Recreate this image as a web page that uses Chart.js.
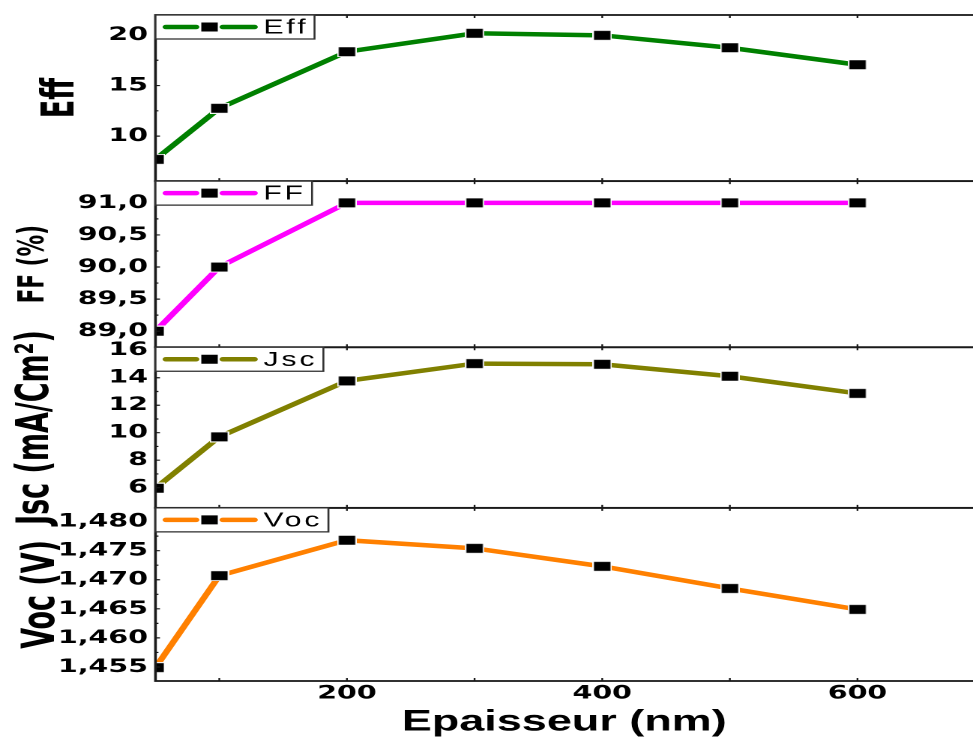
<!DOCTYPE html>
<html>
<head>
<meta charset="utf-8">
<script src="https://cdn.jsdelivr.net/npm/chart.js@4.4.1/dist/chart.umd.min.js"></script>
<style>
  html, body { margin: 0; padding: 0; background: #fff; overflow: hidden; }
</style>
</head>
<body>
<canvas id="chart" width="649" height="738" style="width:973px;height:738px;display:block"></canvas>
<script>
// thickness (nm) on x, four stacked panels
const thickness = [50, 100, 200, 300, 400, 500, 600];
const eff = [7.7, 12.75, 18.35, 20.17, 19.97, 18.74, 17.06];
const ff = [89.0, 90.0, 91.0, 91.0, 91.0, 91.0, 91.0];
const jsc = [5.96, 9.70, 13.77, 15.03, 14.98, 14.11, 12.86];
const voc = [1.4549, 1.4707, 1.4768, 1.4754, 1.4723, 1.4685, 1.4649];

const xTicks = [200, 400, 600];
const xMinorTicks = [100, 200, 300, 400, 500, 600];
const effTicks = [10, 15, 20];
const ffTicks = [89.0, 89.5, 90.0, 90.5, 91.0];
const jscTicks = [6, 8, 10, 12, 14, 16];
const vocTicks = [1.455, 1.460, 1.465, 1.470, 1.475, 1.480];

const labels = ['Eff', 'FF', 'Jsc', 'Voc'];
const titles = ['Eff', 'FF (%)', 'Jsc (mA/Cm²)', 'Voc (V)'];
const colors = ['#008000', '#ff00ff', '#808000', '#ff8000'];

// canvas is drawn 649 wide and stretched to 973 by css (reference is stretched too)
const LEFT = 103.7;
const narrow = '"Liberation Sans Narrow", "DejaVu Sans Condensed", "Liberation Sans", sans-serif';
const tickFont = { family: 'DejaVu Sans', size: 19, weight: 'bold' };

const panels = [
  { id: 'yEff', data: eff, ticks: effTicks, min: 5.545, max: 21.98, dec: 0, weight: 166, tSize: 30, tPad: 26 },
  { id: 'yFF', data: ff, ticks: ffTicks, min: 88.75, max: 91.338, dec: 1, weight: 166, tSize: 24, tPad: 11 },
  { id: 'yJsc', data: jsc, ticks: jscTicks, min: 4.53, max: 16.22, dec: 0, weight: 160.5, tSize: 30, tPad: 9 },
  { id: 'yVoc', data: voc, ticks: vocTicks, min: 1.45259, max: 1.48236, dec: 3, weight: 173, tSize: 30, tPad: 13 }
];
panels.forEach((p, i) => { p.label = labels[i]; p.title = titles[i]; p.color = colors[i]; });

const fmt = (v, d) => Number(v).toFixed(d).replace('.', ',');

const marker = (() => {
  const c = document.createElement('canvas');
  c.width = 13; c.height = 11;
  const g = c.getContext('2d');
  g.fillStyle = '#fff'; g.fillRect(0, 0, 13, 11);
  g.fillStyle = '#000'; g.fillRect(1, 1, 11, 9);
  return c;
})();

const scales = {
  x: {
    type: 'linear', position: 'bottom', min: 50, max: 690.5,
    afterBuildTicks: s => { s.ticks = xTicks.map(v => ({ value: v })); },
    afterFit: s => { s.height = 57; s.paddingLeft = 0; s.paddingRight = 0; },
    grid: { display: false, drawTicks: false },
    border: { display: false },
    ticks: { padding: 1, color: '#000', font: tickFont, maxRotation: 0, autoSkip: false },
    title: {
      display: true, text: 'Epaisseur (nm)', color: '#000',
      font: { family: '"Liberation Sans", Arial, sans-serif', size: 30, weight: 'bold', lineHeight: 1 },
      padding: { top: 0, bottom: 1 }
    }
  }
};
panels.forEach((p, i) => {
  scales[p.id] = {
    type: 'linear', position: 'left', stack: 'panels', stackWeight: p.weight, weight: 10 - i,
    min: p.min, max: p.max,
    afterBuildTicks: s => { s.ticks = p.ticks.map(v => ({ value: v })); },
    afterFit: s => { s.width = LEFT; s.paddingTop = 0; s.paddingBottom = 0; },
    grid: { display: false, drawTicks: false },
    border: { display: false },
    ticks: { padding: 5, color: '#000', font: tickFont, autoSkip: false, callback: v => fmt(v, p.dec) },
    title: {
      display: true, text: p.title, color: '#000',
      font: { family: narrow, size: p.tSize, weight: 'bold', lineHeight: 1 },
      padding: { top: p.tPad, bottom: 0 }
    }
  };
});

const framePlugin = {
  id: 'frames',
  afterDatasetsDraw(chart) {
    const { ctx, chartArea: a } = chart;
    const xs = chart.scales.x;
    ctx.save();
    ctx.strokeStyle = '#1a1a1a';
    panels.forEach(p => {
      const s = chart.scales[p.id];
      ctx.lineWidth = 1.8;
      ctx.strokeRect(a.left, s.top, a.right - a.left + 10, s.bottom - s.top);
      ctx.lineWidth = 1.2;
      ctx.beginPath();
      xMinorTicks.forEach(v => {
        const x = xs.getPixelForValue(v);
        ctx.moveTo(x, s.top); ctx.lineTo(x, s.top + 3);
        ctx.moveTo(x, s.bottom); ctx.lineTo(x, s.bottom - 3);
      });
      p.ticks.forEach((v, k) => {
        const y = s.getPixelForValue(v);
        ctx.moveTo(a.left, y); ctx.lineTo(a.left + 3, y);
        if (k > 0) {
          const ym = s.getPixelForValue((v + p.ticks[k - 1]) / 2);
          ctx.moveTo(a.left, ym); ctx.lineTo(a.left + 2, ym);
        }
      });
      ctx.stroke();
    });
    ctx.restore();
  }
};

const legendPlugin = {
  id: 'panelLegends',
  afterDraw(chart) {
    const { ctx, chartArea: a } = chart;
    ctx.save();
    panels.forEach(p => {
      const s = chart.scales[p.id];
      const top = s.top;
      ctx.font = '20px "Liberation Sans", Arial, sans-serif';
      ctx.letterSpacing = '2px';
      const w = 72 + ctx.measureText(p.label).width + 4;
      ctx.fillStyle = '#fff';
      ctx.fillRect(a.left, top, w, 24);
      ctx.strokeStyle = '#333';
      ctx.lineWidth = 1.3;
      ctx.strokeRect(a.left, top, w, 24);
      ctx.strokeStyle = p.color;
      ctx.lineWidth = 4.5;
      ctx.lineCap = 'round';
      ctx.beginPath();
      ctx.moveTo(a.left + 7, top + 12); ctx.lineTo(a.left + 27, top + 12);
      ctx.moveTo(a.left + 45, top + 12); ctx.lineTo(a.left + 66, top + 12);
      ctx.stroke();
      ctx.drawImage(marker, a.left + 36 - 6.5, top + 12 - 5.5);
      ctx.fillStyle = '#000';
      ctx.textBaseline = 'middle';
      ctx.fillText(p.label, a.left + 72, top + 13);
    });
    ctx.restore();
  }
};

new Chart(document.getElementById('chart'), {
  type: 'line',
  data: {
    datasets: panels.map(p => ({
      label: p.label,
      data: thickness.map((x, i) => ({ x: x, y: p.data[i] })),
      xAxisID: 'x',
      yAxisID: p.id,
      borderColor: p.color,
      borderWidth: 4.5,
      borderCapStyle: 'round',
      pointStyle: marker,
      pointRadius: 6,
      pointHoverRadius: 6,
      tension: 0,
      fill: false,
      clip: { left: 0, top: 10, right: 10, bottom: 10 }
    }))
  },
  options: {
    responsive: false,
    devicePixelRatio: 2,
    animation: false,
    events: [],
    layout: { autoPadding: false, padding: { top: 15, left: 0, right: 0, bottom: 0 } },
    plugins: { legend: { display: false }, tooltip: { enabled: false } },
    scales: scales
  },
  plugins: [framePlugin, legendPlugin]
});
</script>
</body>
</html>
